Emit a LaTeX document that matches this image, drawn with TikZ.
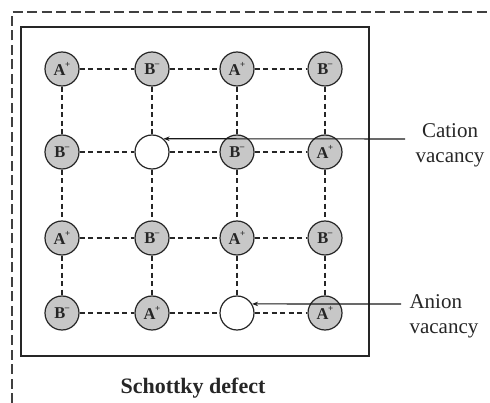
\documentclass[tikz,border=0pt]{standalone}
\usepackage{fontspec}
\setmainfont{Liberation Serif}
\usetikzlibrary{arrows.meta}
\newcommand{\ionA}{A\kern-0.5pt\raisebox{0.45em}{\fontsize{9}{9}\selectfont +}}
\newcommand{\ionB}{B\kern-0.5pt\raisebox{0.5em}{\fontsize{9}{9}\selectfont\textbf{--}}}
\begin{document}
\begin{tikzpicture}[x=1pt,y=-1pt,
  ion/.style={circle,draw=black!85,line width=1.2pt,fill=black!22,minimum size=34pt,inner sep=0pt,font=\fontsize{16.5}{16.5}\selectfont\bfseries,text=black!85},
  vac/.style={circle,draw=black!85,line width=1.2pt,fill=white,minimum size=34pt,inner sep=0pt},
  bond/.style={line width=1.3pt,dash pattern=on 5pt off 3.5pt,black!85},
  pointer/.style={line width=1.1pt,black!90,-{Stealth[length=6pt,width=4.5pt]}},
  lbl/.style={font=\fontsize{21}{25}\selectfont,text=black!85}]
\useasboundingbox (0,0) rectangle (490,403);
% outer dashed frame (only left and top visible)
\draw[line width=1.6pt,dash pattern=on 10pt off 4.5pt,black!75] (12,403) -- (12,12) -- (490,12);
% inner frame
\node[draw=black!85,line width=1.4pt,minimum width=348pt,minimum height=329pt,inner sep=0pt] (frame) at (195,191.5) {};
% ions
\node[ion] (n11) at (62,69) {\ionA};
\node[ion] (n12) at (152,69) {\ionB};
\node[ion] (n13) at (237,69) {\ionA};
\node[ion] (n14) at (325,69) {\ionB};
\node[ion] (n21) at (62,152) {\ionB};
\node[vac] (n22) at (152,152) {};
\node[ion] (n23) at (237,152) {\ionB};
\node[ion] (n24) at (325,152) {\ionA};
\node[ion] (n31) at (62,238) {\ionA};
\node[ion] (n32) at (152,238) {\ionB};
\node[ion] (n33) at (237,238) {\ionA};
\node[ion] (n34) at (325,238) {\ionB};
\node[ion] (n41) at (62,313) {\ionB};
\node[ion] (n42) at (152,313) {\ionA};
\node[vac] (n43) at (237,313) {};
\node[ion] (n44) at (325,313) {\ionA};
% bonds
\foreach \r in {1,2,3,4}{
  \draw[bond] (n\r1) -- (n\r2);
  \draw[bond] (n\r2) -- (n\r3);
  \draw[bond] (n\r3) -- (n\r4);
}
\foreach \c in {1,2,3,4}{
  \draw[bond] (n1\c) -- (n2\c);
  \draw[bond] (n2\c) -- (n3\c);
  \draw[bond] (n3\c) -- (n4\c);
}
% labels
\node[lbl,align=center] (cat) at (450,145) {Cation\\vacancy};
\node[lbl,align=left,anchor=west] (an) at (406,316) {Anion\\vacancy};
\coordinate (catstart) at (405,139);
\coordinate (anstart) at (401,304);
\draw[pointer] (catstart) -- (n22.{asin(13/17)});
\draw[pointer] (anstart) -- (n43.{asin(9/17)});
\node[font=\fontsize{22}{22}\selectfont\bfseries,text=black!85] (title) at (193,388) {Schottky defect};
\end{tikzpicture}
\end{document}
